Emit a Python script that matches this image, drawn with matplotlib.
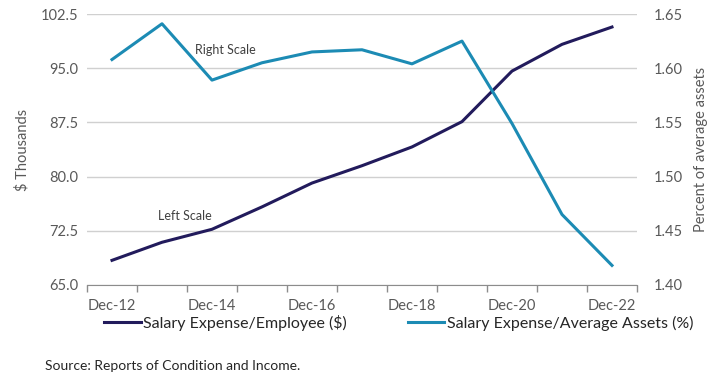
import matplotlib.pyplot as plt
import numpy as np

plt.rcParams['font.family'] = ['Lato', 'DejaVu Sans']

periods = ['Dec-12', 'Dec-13', 'Dec-14', 'Dec-15', 'Dec-16', 'Dec-17',
           'Dec-18', 'Dec-19', 'Dec-20', 'Dec-21', 'Dec-22']
salary_per_employee = [68.4, 70.9, 72.7, 75.8, 79.1, 81.5, 84.1, 87.6, 94.6, 98.3, 100.7]
salary_to_assets = [1.608, 1.641, 1.589, 1.605, 1.615, 1.617, 1.604, 1.625, 1.549, 1.465, 1.418]

navy = '#221B5C'
teal = '#1C8BB4'
grey = '#595959'

fig = plt.figure(figsize=(7.25, 3.85), dpi=100)
ax = fig.add_axes([0.12, 0.26, 0.7586, 0.7036])
ax2 = ax.twinx()

x = np.arange(len(periods))
l1, = ax.plot(x, salary_per_employee, color=navy, lw=2.2, label='Salary Expense/Employee ($)', zorder=3)
l2, = ax2.plot(x, salary_to_assets, color=teal, lw=2.2, label='Salary Expense/Average Assets (%)', zorder=3)

ax.set_xlim(-0.5, len(periods) - 0.5)
ax.set_ylim(65, 102.5)
ax.set_yticks(np.arange(65, 102.6, 7.5))
ax.set_yticklabels([f'{v:.1f}' for v in np.arange(65, 102.6, 7.5)])
ax2.set_ylim(1.40, 1.65)
ax2.set_yticks(np.arange(1.40, 1.651, 0.05))
ax2.set_yticklabels([f'{v:.2f}' for v in np.arange(1.40, 1.651, 0.05)])

ax.set_xticks(x[::2])
ax.set_xticklabels(periods[::2])
ax.set_xticks(np.arange(-0.5, len(periods), 1.0), minor=True)
ax.tick_params(axis='x', which='major', length=0, pad=10, labelsize=10.5, labelcolor=grey)
ax.tick_params(axis='x', which='minor', length=5, color='#8c8c8c', width=1)
ax.tick_params(axis='y', length=0, pad=6, labelsize=10.5, labelcolor=grey)
ax2.tick_params(axis='y', length=0, pad=12, labelsize=10.5, labelcolor=grey)

ax.grid(axis='y', color='#d0d0d0', lw=1)
ax.set_axisbelow(True)
for a in (ax, ax2):
    for s in ('top', 'right', 'left'):
        a.spines[s].set_visible(False)
    a.spines['bottom'].set_color('#8c8c8c')
ax2.spines['bottom'].set_visible(False)

ax.set_ylabel('$ Thousands', fontsize=10.5, color=grey, labelpad=8)
ax2.set_ylabel('Percent of average assets', fontsize=10.5, color=grey, labelpad=8)

ax.text(2.26, 97.5, 'Right Scale', fontsize=9, color='#404040', ha='center', va='center')
ax.text(1.46, 74.6, 'Left Scale', fontsize=9, color='#404040', ha='center', va='center')

fig.legend(handles=[l1, l2], loc='center', bbox_to_anchor=(0.55, 0.162), ncol=2,
           frameon=False, fontsize=11.5, handlelength=2.3, columnspacing=3.8,
           handletextpad=0.15, labelcolor='#262626')
fig.text(0.062, 0.038, 'Source: Reports of Condition and Income.', fontsize=10, color='#262626')

fig.savefig('out.png', dpi=100)
